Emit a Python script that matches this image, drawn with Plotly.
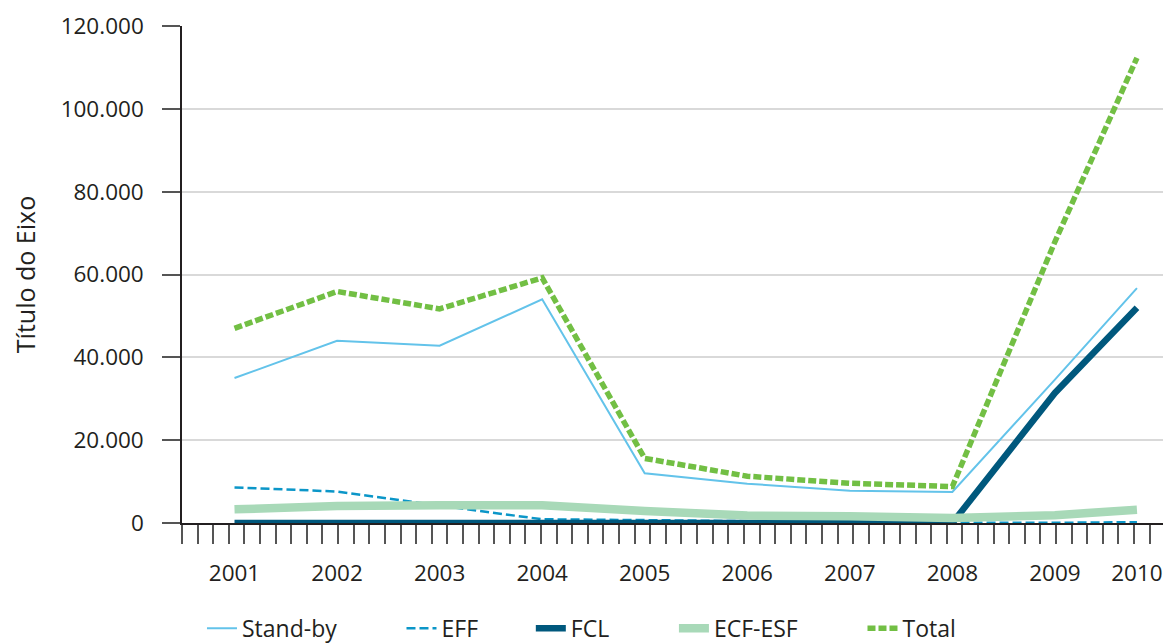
import plotly.graph_objects as go

# Year labels and their positions along the (slightly irregular) horizontal axis
years = ["2001", "2002", "2003", "2004", "2005", "2006", "2007", "2008", "2009", "2010"]
year_pos = [2001, 2002, 2003, 2004, 2005, 2006, 2007, 2008, 2009, 2009.8]

stand_by = [35000, 44000, 42800, 54000, 12000, 9500, 7800, 7500, 34600, 56700]
eff = [8600, 7600, 4200, 900, 700, 400, 200, 100, 50, 200]
fcl = [0, 0, 0, 0, 0, 0, 0, 0, 31400, 52000]
ecf_esf = [3300, 4100, 4300, 4300, 2900, 1800, 1600, 1200, 1900, 3200]
total = [47000, 55900, 51700, 59200, 15600, 11300, 9600, 8800, 67900, 112300]

TEXT = "#231f20"
FONT = "Open Sans"
NB = "\u00a0"

fig = go.Figure()
fig.add_trace(go.Scatter(x=year_pos, y=stand_by, name="Stand-by" + NB * 10, mode="lines",
                         line=dict(color="#63c3ea", width=2)))
fig.add_trace(go.Scatter(x=year_pos, y=eff, name="EFF" + NB * 8, mode="lines",
                         line=dict(color="#0b96c8", width=2.5, dash="9px,4px")))
fig.add_trace(go.Scatter(x=year_pos, y=fcl, name="FCL" + NB * 10, mode="lines",
                         line=dict(color="#00587d", width=6.5)))
fig.add_trace(go.Scatter(x=year_pos, y=ecf_esf, name="ECF-ESF" + NB * 10, mode="lines",
                         line=dict(color="#a8d9b8", width=8.5)))
fig.add_trace(go.Scatter(x=year_pos, y=total, name="Total", mode="lines",
                         line=dict(color="#72bf44", width=5.5, dash="8px,3px")))

x_left = 2000.488
x_right = 2010.132

fig.update_layout(
    width=1163, height=644,
    margin=dict(l=174, r=0, t=18, b=129),
    paper_bgcolor="white", plot_bgcolor="white",
    separators=",.",
    font=dict(family=FONT, color=TEXT, size=22.5),
    showlegend=True,
    legend=dict(orientation="h", x=0.0202, xanchor="left", y=-0.212, yanchor="middle",
                font=dict(size=23, color=TEXT, family=FONT), bgcolor="rgba(0,0,0,0)",
                itemwidth=30),
    xaxis=dict(
        range=[x_left, x_right], automargin=False,
        tickmode="array", tickvals=year_pos, ticktext=years,
        ticks="", ticklabelstandoff=29,
        showgrid=False, zeroline=False,
        showline=True, linecolor=TEXT, linewidth=1.5,
        tickfont=dict(size=22.5, color=TEXT),
        minor=dict(tickmode="linear", tick0=x_left, dtick=0.1522,
                   ticks="outside", ticklen=19, tickwidth=1.5, tickcolor="#555555",
                   showgrid=False),
    ),
    yaxis=dict(
        range=[0, 120000], automargin=False,
        tickmode="linear", tick0=0, dtick=20000,
        tickformat=",d",
        ticks="outside", ticklen=18, tickwidth=1.5, tickcolor="#555555",
        ticklabelstandoff=14,
        showgrid=True, gridcolor="#d9d9d9", gridwidth=1.5,
        zeroline=False,
        showline=True, linecolor=TEXT, linewidth=1.5,
        tickfont=dict(size=22.5, color=TEXT),
        title=dict(text="Título do Eixo", font=dict(size=25, color=TEXT), standoff=34),
    ),
)

fig.write_html("out.html")
